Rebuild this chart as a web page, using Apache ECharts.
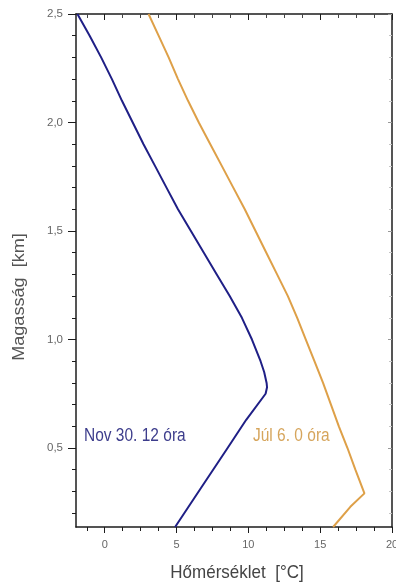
<!DOCTYPE html>
<html>
<head>
<meta charset="utf-8">
<script src="https://cdn.jsdelivr.net/npm/echarts@6/dist/echarts.min.js"></script>
<style>
  html, body { margin: 0; padding: 0; background: #ffffff; }
  #chart { width: 396px; height: 586px; }
</style>
</head>
<body>
<div id="chart"></div>
<script>
// Temperature profiles: temperature [°C] against altitude [km]
const novTemp   = [4.9, 6.7, 8.45, 9.85, 11.2, 11.3, 11.27, 11.1, 10.85, 10.25, 9.55, 8.7, 7.8, 6.9, 6.0, 5.1, 4.3, 3.5, 2.7, 1.95, 1.2, 0.5, -0.25, -1.05, -1.9];
const novHeight = [0.136, 0.316, 0.49, 0.63, 0.75, 0.78, 0.8, 0.85, 0.9, 1.0, 1.1, 1.2, 1.3, 1.4, 1.5, 1.6, 1.7, 1.8, 1.9, 2.0, 2.1, 2.2, 2.3, 2.4, 2.5];

const julTemp   = [15.9, 17.1, 18.08, 17.45, 16.9, 16.3, 15.75, 15.2, 14.6, 14.0, 13.4, 12.75, 12.0, 11.25, 10.5, 9.75, 8.95, 8.15, 7.35, 6.55, 5.8, 5.1, 4.45, 3.75, 3.05];
const julHeight = [0.136, 0.229, 0.291, 0.4, 0.5, 0.6, 0.7, 0.8, 0.9, 1.0, 1.1, 1.2, 1.3, 1.4, 1.5, 1.6, 1.7, 1.8, 1.9, 2.0, 2.1, 2.2, 2.3, 2.4, 2.5];

const xRange = [-2, 20];
const yRange = [0.136, 2.5];
const xTickValues = [0, 5, 10, 15, 20];
const xTickLabels = ['0', '5', '10', '15', '20'];
const yTickValues = [0.5, 1.0, 1.5, 2.0, 2.5];
const yTickLabels = ['0,5', '1,0', '1,5', '2,0', '2,5'];

const seriesNames = ['Nov 30. 12 óra', 'Júl 6. 0 óra'];
const xTitle = 'Hőmérséklet  [°C]';
const yTitle = 'Magasság  [km]';

const FONT = '"Liberation Sans", Arial, sans-serif';
const AXIS_COLOR = '#1c1c1c';

function pairs(t, h) { return t.map((v, i) => [v, h[i]]); }
function labelFor(values, labels) {
  return v => {
    const i = values.findIndex(x => Math.abs(x - v) < 1e-9);
    return i >= 0 ? labels[i] : '';
  };
}

const chart = echarts.init(document.getElementById('chart'), null, { renderer: 'canvas' });

const baseX = {
  type: 'value', min: xRange[0], max: xRange[1], splitNumber: 5,
  splitLine: { show: false },
  axisLine: { show: true, onZero: false, lineStyle: { color: AXIS_COLOR, width: 1.5 } }
};
const baseY = {
  type: 'value', min: yRange[0], max: yRange[1], splitNumber: 5,
  splitLine: { show: false },
  axisLine: { show: true, onZero: false, lineStyle: { color: AXIS_COLOR, width: 1.5 } }
};

chart.setOption({
  animation: false,
  backgroundColor: '#ffffff',
  grid: { left: 76, right: 4, top: 14, bottom: 59, containLabel: false, outerBoundsMode: 'none' },
  xAxis: [
    Object.assign({}, baseX, {
      position: 'bottom',
      axisTick: { show: true, inside: false, length: 6, customValues: xTickValues, lineStyle: { color: AXIS_COLOR, width: 1 } },
      minorTick: { show: true, splitNumber: 4, length: 4, lineStyle: { color: AXIS_COLOR, width: 1 } },
      axisLabel: {
        show: true, margin: 12, color: '#666', fontSize: 11, fontFamily: FONT,
        customValues: xTickValues, formatter: labelFor(xTickValues, xTickLabels)
      }
    }),
    Object.assign({}, baseX, {
      position: 'top',
      axisTick: { show: true, inside: true, length: 6, customValues: xTickValues, lineStyle: { color: AXIS_COLOR, width: 1 } },
      minorTick: { show: true, splitNumber: 4, length: 4, lineStyle: { color: '#444', width: 1 } },
      axisLabel: { show: false }
    })
  ],
  yAxis: [
    Object.assign({}, baseY, {
      position: 'left',
      axisTick: { show: true, inside: false, length: 8, customValues: yTickValues, lineStyle: { color: AXIS_COLOR, width: 1 } },
      minorTick: { show: true, splitNumber: 5, length: 4, lineStyle: { color: AXIS_COLOR, width: 1 } },
      axisLabel: {
        show: true, margin: 13, color: '#666', fontSize: 11.5, fontFamily: FONT,
        customValues: yTickValues, formatter: labelFor(yTickValues, yTickLabels)
      }
    }),
    Object.assign({}, baseY, {
      position: 'right',
      axisTick: { show: true, inside: true, length: 4, customValues: yTickValues, lineStyle: { color: '#999', width: 1 } },
      minorTick: { show: true, splitNumber: 5, length: 3, lineStyle: { color: '#c4c4c4', width: 1 } },
      axisLabel: { show: false }
    })
  ],
  series: [
    {
      name: seriesNames[0], type: 'line', xAxisIndex: 0, yAxisIndex: 0,
      data: pairs(novTemp, novHeight),
      showSymbol: false, smooth: false,
      lineStyle: { color: '#1f1f86', width: 2 }
    },
    {
      name: seriesNames[1], type: 'line', xAxisIndex: 0, yAxisIndex: 0,
      data: pairs(julTemp, julHeight),
      showSymbol: false, smooth: false,
      lineStyle: { color: '#dea048', width: 2 }
    }
  ],
  graphic: [
    {
      type: 'text', x: 84, y: 436, scaleY: 1.13,
      style: { text: seriesNames[0], fill: '#3d3d8c', font: '15.5px ' + FONT, textAlign: 'left', textVerticalAlign: 'middle' }
    },
    {
      type: 'text', x: 253, y: 436, scaleY: 1.13,
      style: { text: seriesNames[1], fill: '#d6a55c', font: '15.5px ' + FONT, textAlign: 'left', textVerticalAlign: 'middle' }
    },
    {
      type: 'text', x: 237, y: 573, scaleY: 1.12,
      style: { text: xTitle, fill: '#444', font: '17px ' + FONT, textAlign: 'center', textVerticalAlign: 'middle' }
    },
    {
      type: 'text', x: 20, y: 297, rotation: Math.PI / 2, scaleX: 1.13,
      style: { text: yTitle, fill: '#555', font: '16px ' + FONT, textAlign: 'center', textVerticalAlign: 'middle' }
    }
  ]
});
</script>
</body>
</html>
